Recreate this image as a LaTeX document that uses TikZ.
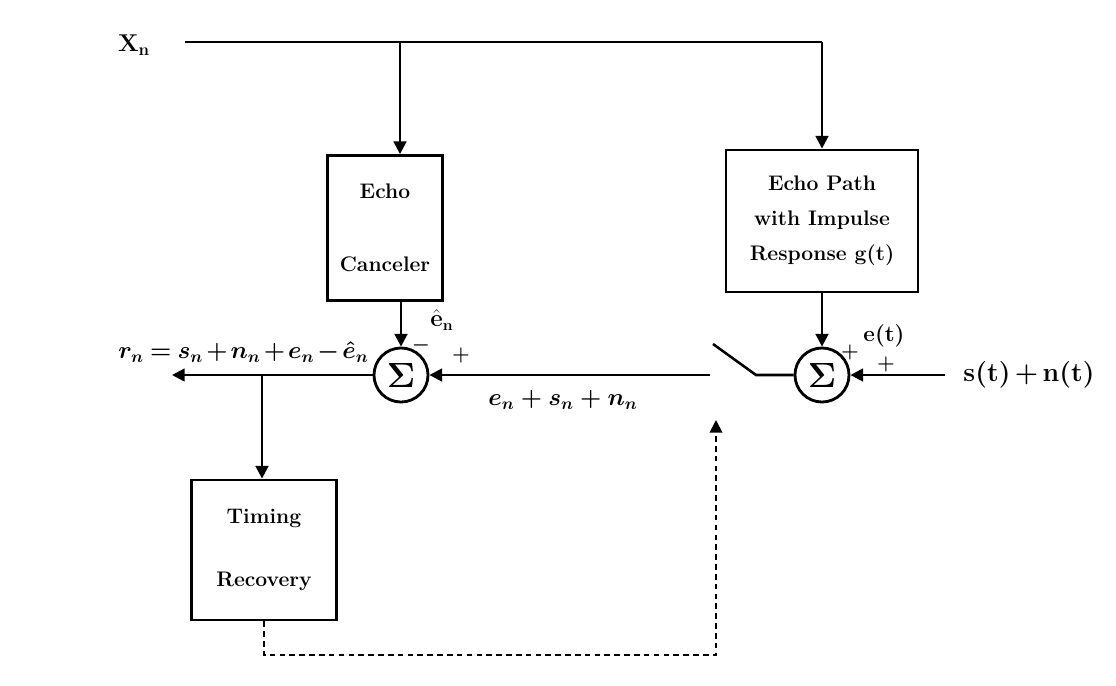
\documentclass[tikz,border=0pt]{standalone}
\usepackage{amsmath}
\usepackage{bm}
\usepackage{tikz}
\usetikzlibrary{arrows.meta}

\begin{document}
\begin{tikzpicture}[
    x=0.025cm, y=-0.025cm,
    block/.style={draw, line width=2pt, align=center, inner sep=0pt, font=\fontsize{15}{18}\selectfont\bfseries},
    sumnode/.style={draw, circle, line width=2pt, minimum size=1.35cm, inner sep=0pt, font=\fontsize{24}{28}\selectfont},
    wire/.style={line width=1.8pt},
    arr/.style={wire, -{Triangle[length=9pt, width=9pt]}},
    lbl/.style={font=\fontsize{16}{19}\selectfont\bfseries},
    sgn/.style={font=\fontsize{15}{17}\selectfont, inner sep=0pt}
]
\useasboundingbox (0,0) rectangle (1116,685);

% blocks
\node[block, minimum width=2.875cm, minimum height=3.625cm] (ec) at (385,228) {Echo\\[1.2cm]Canceler};
\node[block, minimum width=4.8cm, minimum height=3.55cm] (ep) at (822,221) {Echo Path\\[0.25cm]with Impulse\\[0.25cm]Response g(t)};
\node[block, minimum width=3.625cm, minimum height=3.5cm] (tr) at (264,550) {Timing\\[0.95cm]Recovery};
\node[sumnode] (s1) at (401,375) {$\bm{\Sigma}$};
\node[sumnode] (s2) at (822,375) {$\bm{\Sigma}$};

% free ends
\coordinate (xstart) at (185,42);
\coordinate (tapA) at (400,42);
\coordinate (tapB) at (822,42);
\coordinate (out) at (172,375);
\coordinate (tap) at (262,375);
\coordinate (swR) at (756,375);
\coordinate (swL) at (713,344);
\coordinate (swO) at (710,375);
\coordinate (in) at (945,375);
\coordinate (fbA) at (716,655);
\coordinate (fbB) at (716,420);

% input x_n
\draw[wire] (xstart) -- (tapB);
\draw[arr] (tapA) -- (tapA |- ec.north);
\draw[arr] (tapB) -- (ep.north);
\draw[arr] (ec.south -| s1) -- (s1.north);
\draw[arr] (ep.south) -- (s2.north);

% switch and sums
\draw[arr] (in) -- (s2.east);
\draw[wire] (s2.west) -- (swR) -- (swL);
\draw[arr] (swO) -- (s1.east);
\draw[arr] (s1.west) -- (out);
\draw[arr] (tap) -- (tap |- tr.north);

% timing feedback
\draw[arr, line width=1.3pt, dash pattern=on 4pt off 3pt] (tr.south) -- (tr.south |- fbA) -- (fbA) -- (fbB);

% labels
\node[font=\fontsize{18}{21}\selectfont] (xn) at (134,45) {$\mathbf{X}_{\mathbf{n}}$};
\node[lbl] (ehat) at (442,320) {$\hat{\mathbf{e}}_{\mathbf{n}}$};
\node[sgn] (m1) at (421,345) {$\bm{-}$};
\node[sgn] (p1) at (461,355) {$\bm{+}$};
\node[lbl] (et) at (884,336) {e(t)};
\node[sgn] (p2) at (850,352) {$\bm{+}$};
\node[sgn] (p3) at (886,364) {$\bm{+}$};
\node[font=\fontsize{19}{22}\selectfont\bfseries] (snt) at (1029,375) {s(t)\,+\,n(t)};
\node[font=\fontsize{17}{20}\selectfont\boldmath] (esn) at (563,400) {$e_n + s_n + n_n$};
\node[font=\fontsize{17}{20}\selectfont\boldmath, anchor=west, inner sep=0pt] (rn) at (118,352)
    {$\medmuskip=2mu \thickmuskip=4mu r_n = s_n + n_n + e_n - \hat{e}_n$};
\end{tikzpicture}
\end{document}
